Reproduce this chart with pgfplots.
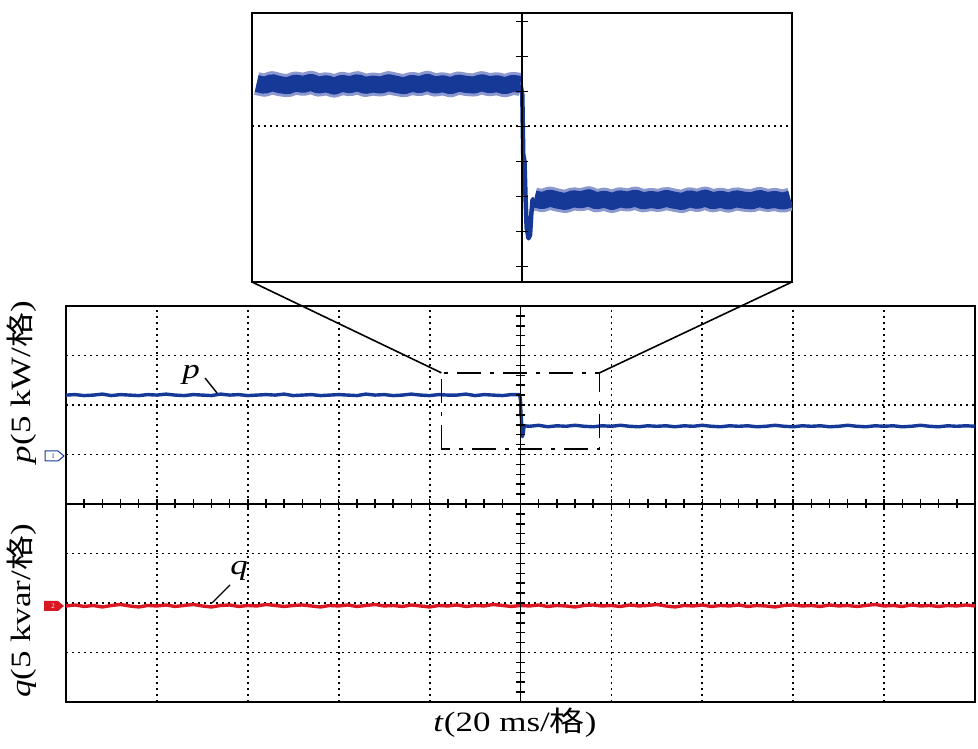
\documentclass[border=0pt]{standalone}
\usepackage{pgfplots}
\pgfplotsset{compat=1.18}
\usepackage{graphicx}
\usepackage{fontspec}
\setmainfont{Liberation Serif}
\newfontfamily\cjk{Noto Sans CJK SC}
\definecolor{pblue}{RGB}{22,56,150}
\definecolor{pband}{RGB}{140,152,208}
\definecolor{qred}{RGB}{218,24,36}
\newcommand{\lbl}[1]{\scalebox{1.25}[1]{\fontsize{28}{32}\selectfont #1}}
\pgfplotsset{dotgrid/.style={black, line width=1.8pt, dash pattern=on 1.8pt off 4.2pt}}
\begin{document}
\begin{tikzpicture}
\path[use as bounding box] (0pt,0pt) rectangle (978pt,749pt);
% main screen
\begin{axis}[name=main, at={(66pt,47pt)}, anchor=south west,
  width=909pt, height=396pt, scale only axis,
  xmin=0, xmax=10, ymin=-4, ymax=4,
  xtick={1,2,3,4,6,7,8,9}, ytick={-3,-2,-1,1,2,3},
  xticklabels={}, yticklabels={}, major tick length=0pt,
  grid=major, grid style={dotgrid},
  axis line style={line width=1.8pt}]
\addplot[pblue, line width=3.4pt, line join=round] coordinates {
(0,2.20)(0.1,2.21)(0.2,2.19)(0.3,2.20)(0.4,2.22)(0.5,2.19)(0.6,2.21)(0.7,2.20)(0.8,2.19)(0.9,2.21)
(1.0,2.20)(1.1,2.22)(1.2,2.20)(1.3,2.19)(1.4,2.21)(1.5,2.20)(1.6,2.19)(1.7,2.22)(1.8,2.20)(1.9,2.21)
(2.0,2.19)(2.1,2.20)(2.2,2.21)(2.3,2.20)(2.4,2.22)(2.5,2.19)(2.6,2.20)(2.7,2.21)(2.8,2.19)(2.9,2.20)
(3.0,2.21)(3.1,2.20)(3.2,2.19)(3.3,2.22)(3.4,2.20)(3.5,2.21)(3.6,2.19)(3.7,2.20)(3.8,2.22)(3.9,2.20)
(4.0,2.19)(4.1,2.21)(4.2,2.20)(4.3,2.20)(4.4,2.22)(4.5,2.19)(4.6,2.21)(4.7,2.20)(4.8,2.19)(4.9,2.21)
(4.99,2.21)(5.0,2.10)(5.005,1.80)(5.01,1.75)(5.015,1.45)(5.02,1.36)(5.03,1.42)(5.04,1.58)
(5.1,1.57)(5.2,1.59)(5.3,1.56)(5.4,1.58)(5.5,1.57)(5.6,1.59)(5.7,1.57)(5.8,1.56)(5.9,1.58)
(6.0,1.57)(6.1,1.59)(6.2,1.57)(6.3,1.56)(6.4,1.58)(6.5,1.57)(6.6,1.58)(6.7,1.56)(6.8,1.58)(6.9,1.57)
(7.0,1.59)(7.1,1.57)(7.2,1.56)(7.3,1.58)(7.4,1.57)(7.5,1.58)(7.6,1.56)(7.7,1.57)(7.8,1.59)(7.9,1.57)
(8.0,1.56)(8.1,1.58)(8.2,1.57)(8.3,1.58)(8.4,1.56)(8.5,1.57)(8.6,1.59)(8.7,1.57)(8.8,1.56)(8.9,1.58)
(9.0,1.57)(9.1,1.58)(9.2,1.56)(9.3,1.57)(9.4,1.59)(9.5,1.57)(9.6,1.56)(9.7,1.58)(9.8,1.57)(9.9,1.58)(10,1.57)
};
\addplot[qred, line width=3.4pt, line join=round] coordinates {
(0,-2.06)(0.1,-2.04)(0.2,-2.07)(0.3,-2.05)(0.4,-2.08)(0.5,-2.05)(0.6,-2.03)(0.7,-2.06)(0.8,-2.08)(0.9,-2.05)
(1.0,-2.06)(1.1,-2.04)(1.2,-2.07)(1.3,-2.05)(1.4,-2.03)(1.5,-2.06)(1.6,-2.08)(1.7,-2.05)(1.8,-2.04)(1.9,-2.07)
(2.0,-2.05)(2.1,-2.06)(2.2,-2.03)(2.3,-2.05)(2.4,-2.07)(2.5,-2.05)(2.6,-2.04)(2.7,-2.06)(2.8,-2.08)(2.9,-2.05)
(3.0,-2.06)(3.1,-2.04)(3.2,-2.07)(3.3,-2.05)(3.4,-2.03)(3.5,-2.06)(3.6,-2.05)(3.7,-2.07)(3.8,-2.04)(3.9,-2.06)
(4.0,-2.08)(4.1,-2.05)(4.2,-2.06)(4.3,-2.04)(4.4,-2.07)(4.5,-2.05)(4.6,-2.06)(4.7,-2.03)(4.8,-2.05)(4.9,-2.07)
(5.0,-2.05)(5.1,-2.06)(5.2,-2.04)(5.3,-2.07)(5.4,-2.05)(5.5,-2.06)(5.6,-2.08)(5.7,-2.05)(5.8,-2.04)(5.9,-2.06)
(6.0,-2.05)(6.1,-2.07)(6.2,-2.04)(6.3,-2.06)(6.4,-2.05)(6.5,-2.03)(6.6,-2.06)(6.7,-2.08)(6.8,-2.05)(6.9,-2.06)
(7.0,-2.04)(7.1,-2.07)(7.2,-2.05)(7.3,-2.06)(7.4,-2.04)(7.5,-2.07)(7.6,-2.05)(7.7,-2.06)(7.8,-2.08)(7.9,-2.05)
(8.0,-2.04)(8.1,-2.06)(8.2,-2.05)(8.3,-2.07)(8.4,-2.04)(8.5,-2.06)(8.6,-2.05)(8.7,-2.07)(8.8,-2.05)(8.9,-2.03)
(9.0,-2.06)(9.1,-2.05)(9.2,-2.07)(9.3,-2.04)(9.4,-2.06)(9.5,-2.05)(9.6,-2.07)(9.7,-2.05)(9.8,-2.06)(9.9,-2.04)(10,-2.06)
};
\draw[line width=1.6pt, dash pattern=on 24pt off 9pt on 4pt off 9pt]
  (axis cs:4.13,1.11) rectangle (axis cs:5.87,2.65);
\coordinate (rl) at (axis cs:4.13,2.65);
\coordinate (rr) at (axis cs:5.87,2.65);
\end{axis}
% centre cross with small divisions
\begin{axis}[at={(66pt,47pt)}, anchor=south west,
  width=909pt, height=396pt, scale only axis,
  xmin=-5, xmax=5, ymin=-4, ymax=4,
  axis lines=center, axis line style={-, line width=1.6pt},
  xtick={-4.8,-4.6,...,4.8}, ytick={-3.8,-3.6,...,3.8},
  xticklabels={}, yticklabels={},
  tick align=center, major tick length=9pt, tick style={black, line width=1.5pt}]
\end{axis}
% zoomed inset
\begin{axis}[name=inset, at={(252pt,467pt)}, anchor=south west,
  width=540pt, height=269.3pt, scale only axis,
  xmin=4.13, xmax=5.87, ymin=1.11, ymax=2.65,
  xtick=\empty, ytick={2}, yticklabels={}, major tick length=0pt,
  ymajorgrids, grid style={dotgrid},
  axis line style={line width=1.8pt}]
\addplot[pband, line width=23pt, line join=round] coordinates {
(4.145,2.245)(4.17,2.235)(4.195,2.250)(4.22,2.238)(4.245,2.232)(4.27,2.248)(4.295,2.240)(4.32,2.252)(4.345,2.236)
(4.37,2.244)(4.395,2.230)(4.42,2.246)(4.445,2.238)(4.47,2.250)(4.495,2.234)(4.52,2.242)(4.545,2.236)(4.57,2.250)
(4.595,2.240)(4.62,2.232)(4.645,2.246)(4.67,2.238)(4.695,2.252)(4.72,2.236)(4.745,2.244)(4.77,2.232)(4.795,2.248)
(4.82,2.240)(4.845,2.236)(4.87,2.250)(4.895,2.238)(4.92,2.244)(4.945,2.232)(4.97,2.246)(4.995,2.240)
};
\addplot[pband, line width=23pt, line join=round] coordinates {
(5.04,1.585)(5.065,1.575)(5.09,1.590)(5.115,1.578)(5.14,1.570)(5.165,1.586)(5.19,1.580)(5.215,1.592)(5.24,1.574)
(5.265,1.584)(5.29,1.570)(5.315,1.586)(5.34,1.578)(5.365,1.590)(5.39,1.574)(5.415,1.582)(5.44,1.576)(5.465,1.588)
(5.49,1.578)(5.515,1.570)(5.54,1.586)(5.565,1.576)(5.59,1.590)(5.615,1.574)(5.64,1.584)(5.665,1.572)(5.69,1.586)
(5.715,1.578)(5.74,1.574)(5.765,1.588)(5.79,1.576)(5.815,1.582)(5.84,1.572)(5.865,1.584)
};
\addplot[pblue, line width=17pt, line join=round] coordinates {
(4.145,2.245)(4.17,2.235)(4.195,2.250)(4.22,2.238)(4.245,2.232)(4.27,2.248)(4.295,2.240)(4.32,2.252)(4.345,2.236)
(4.37,2.244)(4.395,2.230)(4.42,2.246)(4.445,2.238)(4.47,2.250)(4.495,2.234)(4.52,2.242)(4.545,2.236)(4.57,2.250)
(4.595,2.240)(4.62,2.232)(4.645,2.246)(4.67,2.238)(4.695,2.252)(4.72,2.236)(4.745,2.244)(4.77,2.232)(4.795,2.248)
(4.82,2.240)(4.845,2.236)(4.87,2.250)(4.895,2.238)(4.92,2.244)(4.945,2.232)(4.97,2.246)(4.995,2.240)
};
\addplot[pblue, line width=4.5pt, line join=round] coordinates {
(4.995,2.24)(5.001,2.18)(5.004,1.84)(5.008,1.80)(5.011,1.62)(5.015,1.42)(5.021,1.36)(5.026,1.38)(5.030,1.50)(5.034,1.58)(5.04,1.585)
};
\addplot[pblue, line width=17pt, line join=round] coordinates {
(5.04,1.585)(5.065,1.575)(5.09,1.590)(5.115,1.578)(5.14,1.570)(5.165,1.586)(5.19,1.580)(5.215,1.592)(5.24,1.574)
(5.265,1.584)(5.29,1.570)(5.315,1.586)(5.34,1.578)(5.365,1.590)(5.39,1.574)(5.415,1.582)(5.44,1.576)(5.465,1.588)
(5.49,1.578)(5.515,1.570)(5.54,1.586)(5.565,1.576)(5.59,1.590)(5.615,1.574)(5.64,1.584)(5.665,1.572)(5.69,1.586)
(5.715,1.578)(5.74,1.574)(5.765,1.588)(5.79,1.576)(5.815,1.582)(5.84,1.572)(5.865,1.584)
};
\end{axis}
\begin{axis}[at={(252pt,467pt)}, anchor=south west,
  width=540pt, height=269.3pt, scale only axis,
  xmin=-0.87, xmax=0.87, ymin=1.11, ymax=2.65,
  axis x line=none, axis y line=center, axis line style={-, line width=1.6pt},
  xtick=\empty, ytick={1.2,1.4,...,2.6}, yticklabels={},
  tick align=center, major tick length=12pt, tick style={black, line width=1.5pt}]
\end{axis}
% zoom connectors
\draw[line width=1.6pt] (inset.south west) -- (rl);
\draw[line width=1.6pt] (inset.south east) -- (rr);
% channel markers
\draw[pblue, line width=1pt, fill=white] (45pt,288pt)--(58pt,288pt)--(64pt,293pt)--(58pt,298pt)--(45pt,298pt)--cycle;
\node[pblue, font=\fontsize{7}{8}\selectfont] at (53pt,293pt) {1};
\fill[qred] (44pt,138pt)--(58pt,138pt)--(64pt,143pt)--(58pt,148pt)--(44pt,148pt)--cycle;
\node[white, font=\fontsize{7}{8}\selectfont] at (53pt,143pt) {2};
% trace annotations
\node at (191pt,374pt) {\lbl{\textit{p}}};
\draw[line width=1.4pt] (205pt,371pt) -- (217pt,356pt);
\node at (239pt,178pt) {\lbl{\textit{q}}};
\draw[line width=1.4pt] (230pt,164pt) -- (212pt,146pt);
% axis titles
\node[rotate=90] at (22pt,367pt) {\lbl{\textit{p}(5 kW/{\cjk 格})}};
\node[rotate=90] at (22pt,138pt) {\lbl{\textit{q}(5 kvar/{\cjk 格})}};
\node[anchor=base] at (515pt,17pt) {\lbl{\textit{t}(20 ms/{\cjk 格})}};
\end{tikzpicture}
\end{document}
